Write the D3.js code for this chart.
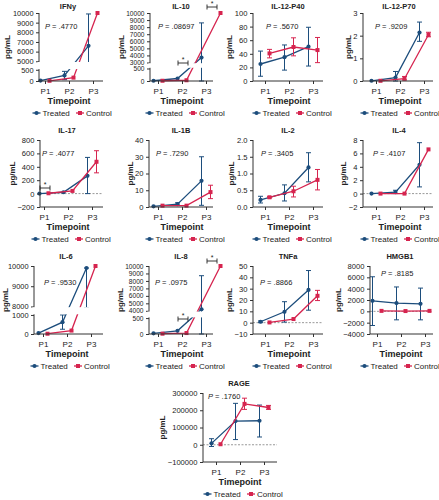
<!DOCTYPE html>
<html>
<head>
<meta charset="utf-8">
<script src="https://cdn.jsdelivr.net/npm/d3@7"></script>
<style>
  body { margin: 0; background: #fff; }
  svg { font-family: "Liberation Sans", Arial, sans-serif; }
</style>
</head>
<body>
<svg id="chart"></svg>
<script>
// ---- data ----
const cytokines = ["IFNy", "IL-10", "IL-12-P40", "IL-12-P70", "IL-17", "IL-1B", "IL-2",
  "IL-4", "IL-6", "IL-8", "TNFa", "HMGB1", "RAGE"];
const pValues = [".4770", ".08697", ".5670", ".9209", ".4077", ".7290", ".3405",
  ".4107", ".9530", ".0975", ".8866", ".8185", ".1760"];
const timepoints = ["P1", "P2", "P3"];
const seriesNames = ["Treated", "Control"];

const treatedMean = [
  [20, 250, 6600], [10, 100, 3700], [25, 35, 50.5], [0.01, 0.15, 2.14],
  [0, 20, 265], [0.4, 1.7, 15.6], [0.21, 0.41, 1.18], [0, 0.23, 4.3],
  [50, 620, 9900], [20, 100, 4200], [0.8, 9.6, 28.9], [1850, 1450, 1330],
  [8000, 137000, 139000]
];
const treatedLow = [
  [null, 60, 4000], [null, null, 0], [7, 16, 22], [null, 0, 1.75],
  [null, null, 0], [null, 1, 1], [0.12, 0.18, 0.75], [null, 0, 1],
  [null, 250, 7000], [null, null, 0], [0, 0.5, 11], [-2500, -1500, -1500],
  [-10000, 30000, 45000]
];
const treatedHigh = [
  [null, 430, 9900], [null, null, 8600], [44, 53, 79], [null, 0.42, 2.6],
  [null, null, 540], [null, 2.5, 30], [0.32, 0.66, 1.62], [null, 0.5, 7.6],
  [null, 1000, 9900], [null, null, 8700], [1.5, 18.5, 46], [6100, 4300, 4100],
  [35000, 240000, 230000]
];
const controlMean = [
  [10, 150, 10000], [10, 30, 10000], [40.6, 50, 45.5], [0.01, 0.1, 2.04],
  [5, 40, 475], [0.8, 0.8, 8.9], [0.29, 0.47, 0.81], [0, 0, 6.6],
  [15, 180, 10000], [10, 30, 10000], [0.2, 3.2, 23.7], [80, 50, 80],
  [3000, 237000, 216000]
];
const controlLow = [
  [null, null, null], [null, null, null], [34, 37, 27], [null, 0.05, 1.95],
  [null, null, 310], [null, null, 5], [0.27, 0.3, 0.51], [null, null, null],
  [null, null, null], [null, null, null], [null, null, 19.5], [null, null, null],
  [null, 205000, 205000]
];
const controlHigh = [
  [null, null, null], [null, null, null], [46.5, 63.5, 64], [null, 0.2, 2.15],
  [null, null, 640], [null, null, 13], [0.31, 0.62, 1.12], [null, null, null],
  [null, null, null], [null, null, null], [null, null, 28.5], [null, null, null],
  [null, 270000, 228000]
];
const yTicks = [
  [0, 500, 5000, 6000, 7000, 8000, 9000, 10000],
  [0, 500, 3000, 4000, 5000, 6000, 7000, 8000, 9000, 10000],
  [0, 20, 40, 60, 80, 100],
  [0, 1, 2, 3],
  [-200, 0, 200, 400, 600, 800],
  [0, 10, 20, 30, 40],
  [0, 0.5, 1, 1.5, 2],
  [-2, 0, 2, 4, 6, 8],
  [0, 1000, 8000, 9000, 10000],
  [0, 500, 4000, 5000, 6000, 7000, 8000, 9000, 10000],
  [-10, 0, 10, 20, 30, 40, 50],
  [-4000, -2000, 0, 2000, 4000, 6000, 8000],
  [-100000, 0, 100000, 200000, 300000]
];
// significance brackets
const sigPanels = ["IL-10", "IL-10", "IL-17", "IL-8", "IL-8"];
const sigTimes = ["P2", "P3", "P1", "P2", "P3"];

// ---- layout ----
const blue = "#1c4d7c", red = "#d6244f", ink = "#222";
const rowTop = [13, 140, 266, 393], rowBottom = [81, 207, 334, 462];
const titleY = [9, 133, 259, 386];
const layout = [
  {row: 0, axisX: 39, right: 103, p2x: 69, pX: 45, pY: 15.5, brk: {vals: [500, 5000], f: [0.835, 0.71]}, fmt: "d", tf: 7.4},
  {row: 0, axisX: 150, right: 213, p2x: 182, pX: 158, pY: 15.5, brk: {vals: [500, 3000], f: [0.816, 0.728]}, fmt: "d", wide: 10, tf: 6.6},
  {row: 0, axisX: 253, right: 323, p2x: 289, pX: 266, pY: 15.5, fmt: "d"},
  {row: 0, axisX: 363, right: 433, p2x: 400, pX: 375, pY: 15.5, fmt: "d", legShift: -3},
  {row: 1, axisX: 40, right: 103, p2x: 68, pX: 42, pY: 15.5, fmt: "d"},
  {row: 1, axisX: 149, right: 213, p2x: 182, pX: 156, pY: 15.5, fmt: "d"},
  {row: 1, axisX: 253, right: 323, p2x: 289, pX: 261, pY: 15.5, fmt: ".1f"},
  {row: 1, axisX: 363, right: 433, p2x: 400, pX: 373, pY: 15.5, fmt: "d", legShift: -3},
  {row: 2, axisX: 34, right: 103, p2x: 67, pX: 44, pY: 18.5, brk: {vals: [1000, 8000], f: [0.72, 0.595]}, fmt: "d", tf: 7.4},
  {row: 2, axisX: 149, right: 213, p2x: 182, pX: 155, pY: 18.5, brk: {vals: [500, 4000], f: [0.766, 0.659]}, fmt: "d", wide: 10, tf: 6.6},
  {row: 2, axisX: 253, right: 323, p2x: 289, pX: 260, pY: 18.5, fmt: "d"},
  {row: 2, axisX: 370, right: 433, p2x: 401, pX: 381, pY: 9.5, fmt: "d", legShift: -4},
  {row: 3, axisX: 203, right: 277, p2x: 240, pX: 208, pY: 5.5, fmt: "d"}
];
const sigY = [63, 7, 188, 319, 261];

const svg = d3.select("#chart")
    .attr("width", 439)
    .attr("height", 500);

const xPos = {};

cytokines.forEach((name, k) => {
  const L = layout[k];
  const top = rowTop[L.row], bottom = rowBottom[L.row], h = bottom - top;
  const ticks = yTicks[k];
  const g = svg.append("g");

  // y scale, piecewise when the axis is broken
  let y;
  if (L.brk) {
    y = d3.scaleLinear()
      .domain([ticks[0], L.brk.vals[0], L.brk.vals[1], d3.max(ticks)])
      .range([bottom, top + h * L.brk.f[0], top + h * L.brk.f[1], top]);
  } else {
    y = d3.scaleLinear().domain(d3.extent(ticks)).range([bottom, top]);
  }
  const x = d3.scalePoint().domain(timepoints).range([L.p2x - 24, L.p2x + 24]);
  const tx = (t) => x(t) - 4.5;
  const cx = (t) => x(t) + 4.5 + (t === "P3" && L.wide ? L.wide : 0);
  xPos[name] = {tx, cx};

  // dashed zero line
  if (ticks[0] < 0) {
    g.append("line")
      .attr("x1", L.axisX).attr("x2", L.right)
      .attr("y1", y(0)).attr("y2", y(0))
      .attr("stroke", "#999").attr("stroke-width", 1)
      .attr("stroke-dasharray", "2,1.5");
  }

  const series = [
    {mean: treatedMean[k], lo: treatedLow[k], hi: treatedHigh[k], xf: tx, color: blue},
    {mean: controlMean[k], lo: controlLow[k], hi: controlHigh[k], xf: cx, color: red}
  ];

  series.forEach((s, si) => {
    // connecting line
    g.append("path")
      .datum(timepoints)
      .attr("fill", "none")
      .attr("stroke", s.color)
      .attr("stroke-width", 1.3)
      .attr("d", d3.line().x(t => s.xf(t)).y((t, i) => y(s.mean[i])));

    // error bars
    timepoints.forEach((t, i) => {
      if (s.lo[i] == null && s.hi[i] == null) return;
      const lo = s.lo[i] == null ? s.mean[i] : s.lo[i];
      const hi = s.hi[i] == null ? s.mean[i] : s.hi[i];
      const xx = s.xf(t);
      g.append("line")
        .attr("x1", xx).attr("x2", xx).attr("y1", y(lo)).attr("y2", y(hi))
        .attr("stroke", s.color).attr("stroke-width", 1);
      [lo, hi].forEach(v => {
        g.append("line")
          .attr("x1", xx - 2.5).attr("x2", xx + 2.5).attr("y1", y(v)).attr("y2", y(v))
          .attr("stroke", s.color).attr("stroke-width", 1);
      });
    });

    // markers
    timepoints.forEach((t, i) => {
      if (si === 0) {
        g.append("circle")
          .attr("cx", s.xf(t)).attr("cy", y(s.mean[i])).attr("r", 2.1)
          .attr("fill", s.color);
      } else {
        g.append("rect")
          .attr("x", s.xf(t) - 2).attr("y", y(s.mean[i]) - 2)
          .attr("width", 4).attr("height", 4)
          .attr("fill", s.color);
      }
    });
  });

  // y axis
  const yAxis = g.append("g")
    .attr("transform", `translate(${L.axisX},0)`)
    .call(d3.axisLeft(y).tickValues(ticks).tickSize(3).tickSizeOuter(0).tickPadding(2.5)
      .tickFormat(d3.format(L.fmt)));
  yAxis.select(".domain").remove();
  yAxis.selectAll(".tick line").attr("stroke", "#333");
  yAxis.selectAll("text").attr("font-size", L.tf || 7.6).attr("fill", ink);
  const labelLeft = L.axisX + yAxis.node().getBBox().x;
  yAxis.append("line")
    .attr("x1", 0).attr("x2", 0).attr("y1", top).attr("y2", bottom)
    .attr("stroke", "#333");

  // axis break
  if (L.brk) {
    g.append("rect")
      .attr("x", L.axisX - 1.5).attr("width", L.right - L.axisX + 12)
      .attr("y", y(L.brk.vals[1]) + 0.7)
      .attr("height", y(L.brk.vals[0]) - y(L.brk.vals[1]) - 1.4)
      .attr("fill", "#fff");
  }

  // x axis
  const xAxis = g.append("g")
    .attr("transform", `translate(0,${bottom})`)
    .call(d3.axisBottom(x).tickSize(3).tickSizeOuter(0).tickPadding(4));
  xAxis.select(".domain").remove();
  xAxis.append("line")
    .attr("x1", L.axisX).attr("x2", L.right).attr("y1", 0).attr("y2", 0)
    .attr("stroke", "#333");
  xAxis.selectAll(".tick line").attr("stroke", "#333");
  xAxis.selectAll("text").attr("font-size", 8).attr("fill", ink);

  // title and axis titles
  g.append("text")
    .attr("x", L.p2x - 1).attr("y", titleY[L.row])
    .attr("text-anchor", "middle").attr("font-size", 7.5).attr("font-weight", "bold")
    .attr("fill", ink).text(name);
  g.append("text")
    .attr("x", L.p2x).attr("y", bottom + 22.5)
    .attr("text-anchor", "middle").attr("font-size", 9).attr("font-weight", "bold")
    .attr("fill", ink).text("Timepoint");
  g.append("text")
    .attr("transform", `translate(${Math.max(labelLeft - 5, 5)},${(top + bottom) / 2}) rotate(-90)`)
    .attr("text-anchor", "middle").attr("dominant-baseline", "central")
    .attr("font-size", 8).attr("font-weight", "bold")
    .attr("fill", ink).text("pg/mL");

  // P value
  const pt = g.append("text")
    .attr("x", L.pX).attr("y", top + L.pY)
    .attr("font-size", 7.5).attr("fill", ink);
  pt.append("tspan").attr("font-style", "italic").text("P");
  pt.append("tspan").text(" = " + pValues[k]);

  // legend
  const lx = L.p2x + 2 + (L.legShift || 0), ly = bottom + 32;
  const leg = g.append("g").attr("transform", `translate(${lx},${ly})`);
  [[-34.5, blue, 0], [9, red, 1]].forEach(([ox, col, si]) => {
    leg.append("line")
      .attr("x1", ox - 4).attr("x2", ox + 4).attr("y1", 0).attr("y2", 0)
      .attr("stroke", col).attr("stroke-width", 1.3);
    if (si === 0) {
      leg.append("circle").attr("cx", ox).attr("cy", 0).attr("r", 2.1).attr("fill", col);
    } else {
      leg.append("rect").attr("x", ox - 2).attr("y", -2).attr("width", 4).attr("height", 4).attr("fill", col);
    }
    leg.append("text")
      .attr("x", ox + 6).attr("y", 0)
      .attr("dominant-baseline", "central")
      .attr("font-size", 8).attr("fill", ink)
      .text(seriesNames[si]);
  });
});

// significance brackets
sigPanels.forEach((p, j) => {
  const t = sigTimes[j];
  const mid = (xPos[p].tx(t) + xPos[p].cx(t)) / 2 + 1;
  const yy = sigY[j];
  const b = svg.append("g").attr("stroke", ink).attr("stroke-width", 0.9);
  b.append("line").attr("x1", mid - 5).attr("x2", mid + 5).attr("y1", yy).attr("y2", yy);
  b.append("line").attr("x1", mid - 5).attr("x2", mid - 5).attr("y1", yy - 2.5).attr("y2", yy + 2.5);
  b.append("line").attr("x1", mid + 5).attr("x2", mid + 5).attr("y1", yy - 2.5).attr("y2", yy + 2.5);
  svg.append("text")
    .attr("x", mid).attr("y", yy - 1.5)
    .attr("text-anchor", "middle").attr("font-size", 7).attr("fill", ink)
    .text("*");
});
</script>
</body>
</html>
